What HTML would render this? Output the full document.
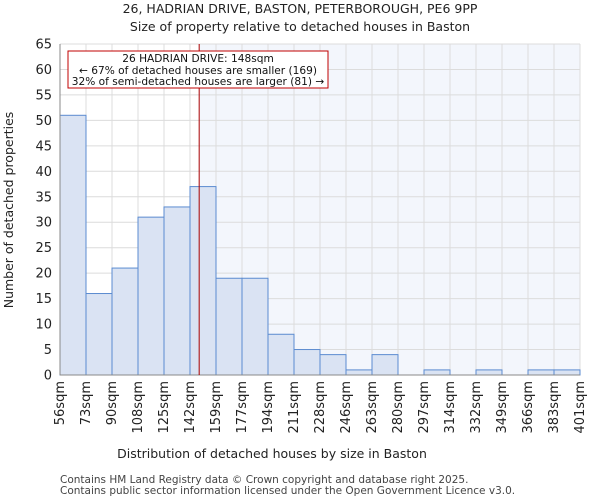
<!DOCTYPE html>
<html><head><meta charset="utf-8"><style>
body{margin:0;background:#fff;font-family:"DejaVu Sans","Liberation Sans",sans-serif;}
</style></head><body>
<svg id="chart" width="600" height="500" xmlns="http://www.w3.org/2000/svg" font-family="DejaVu Sans, Liberation Sans, sans-serif">
<text x="300" y="13" text-anchor="middle" font-size="12.5" fill="#222">26, HADRIAN DRIVE, BASTON, PETERBOROUGH, PE6 9PP</text>
<text x="300" y="31" text-anchor="middle" font-size="12.5" fill="#222">Size of property relative to detached houses in Baston</text>
<g id="plot"></g>
<text x="272" y="458" text-anchor="middle" font-size="12.5" fill="#222">Distribution of detached houses by size in Baston</text>
<text transform="translate(13,210) rotate(-90)" text-anchor="middle" font-size="12.5" fill="#222">Number of detached properties</text>
<text x="60" y="483" font-size="10.5" fill="#444">Contains HM Land Registry data © Crown copyright and database right 2025.</text>
<text x="60" y="494" font-size="10.5" fill="#444">Contains public sector information licensed under the Open Government Licence v3.0.</text>
</svg>
<script>
const binLabels=["56sqm","73sqm","90sqm","108sqm","125sqm","142sqm","159sqm","177sqm","194sqm","211sqm","228sqm","246sqm","263sqm","280sqm","297sqm","314sqm","332sqm","349sqm","366sqm","383sqm","401sqm"];
const binEdges=[56,73,90,108,125,142,159,177,194,211,228,246,263,280,297,314,332,349,366,383,401];
const counts=[51,16,21,31,33,37,19,19,8,5,4,1,4,0,1,0,1,0,1,1];
const yTicks=[0,5,10,15,20,25,30,35,40,45,50,55,60,65];
const subjectSize=148;
const L=60,R=580,T=44,B=375,yMax=65;
const ns="http://www.w3.org/2000/svg";
const g=document.getElementById('plot');
const nb=counts.length,bw=(R-L)/nb;
const xi=i=>L+i*bw;
const y=v=>B-(v/yMax)*(B-T);
function xs(v){for(let i=0;i<binEdges.length-1;i++){if(v<=binEdges[i+1])return xi(i)+(v-binEdges[i])/(binEdges[i+1]-binEdges[i])*bw;}return R;}
function el(t,a){const e=document.createElementNS(ns,t);for(const k in a)e.setAttribute(k,a[k]);g.appendChild(e);return e;}
const sx=xs(subjectSize);
let bg=el('rect',{x:sx,y:T,width:R-sx,height:B-T,fill:'#f3f6fc'});


for(let i=0;i<=nb;i++){let l=el('line',{x1:xi(i),x2:xi(i),y1:T,y2:B,stroke:'#dcdcdc','stroke-width':1});

}
yTicks.forEach(v=>{let l=el('line',{x1:L,x2:R,y1:y(v),y2:y(v),stroke:'#dcdcdc','stroke-width':1});


let t=el('text',{x:L-8,y:y(v)+4.5,'text-anchor':'end','font-size':13,fill:'#222'});t.textContent=v;

});
counts.forEach((c,i)=>{if(c<=0)return;let r=el('rect',{x:xi(i),y:y(c),width:bw,height:B-y(c),fill:'#dae3f3',stroke:'#5b8bd0','stroke-width':1});

});
binLabels.forEach((s,i)=>{let t=el('text',{transform:`translate(${xi(i)+4},381) rotate(-90)`,'text-anchor':'end','font-size':13,fill:'#222'});t.textContent=s;

});
let ax=el('line',{x1:L,x2:L,y1:T,y2:B,stroke:'#888'});


let ax2=el('line',{x1:L,x2:R,y1:B,y2:B,stroke:'#888'});


let ml=el('line',{x1:sx,x2:sx,y1:T,y2:B,stroke:'#aa0000','stroke-width':1});


let box=el('rect',{x:68,y:51,width:260,height:37,fill:'#fff',stroke:'#c00000','stroke-width':1});


[["26 HADRIAN DRIVE: 148sqm",62],["← 67% of detached houses are smaller (169)",74],["32% of semi-detached houses are larger (81) →",85]].forEach(([s,yy],k)=>{let t=el('text',{x:198,y:yy,'text-anchor':'middle','font-size':10.6,fill:'#111'});t.textContent=s;

});
</script>
</body></html>
